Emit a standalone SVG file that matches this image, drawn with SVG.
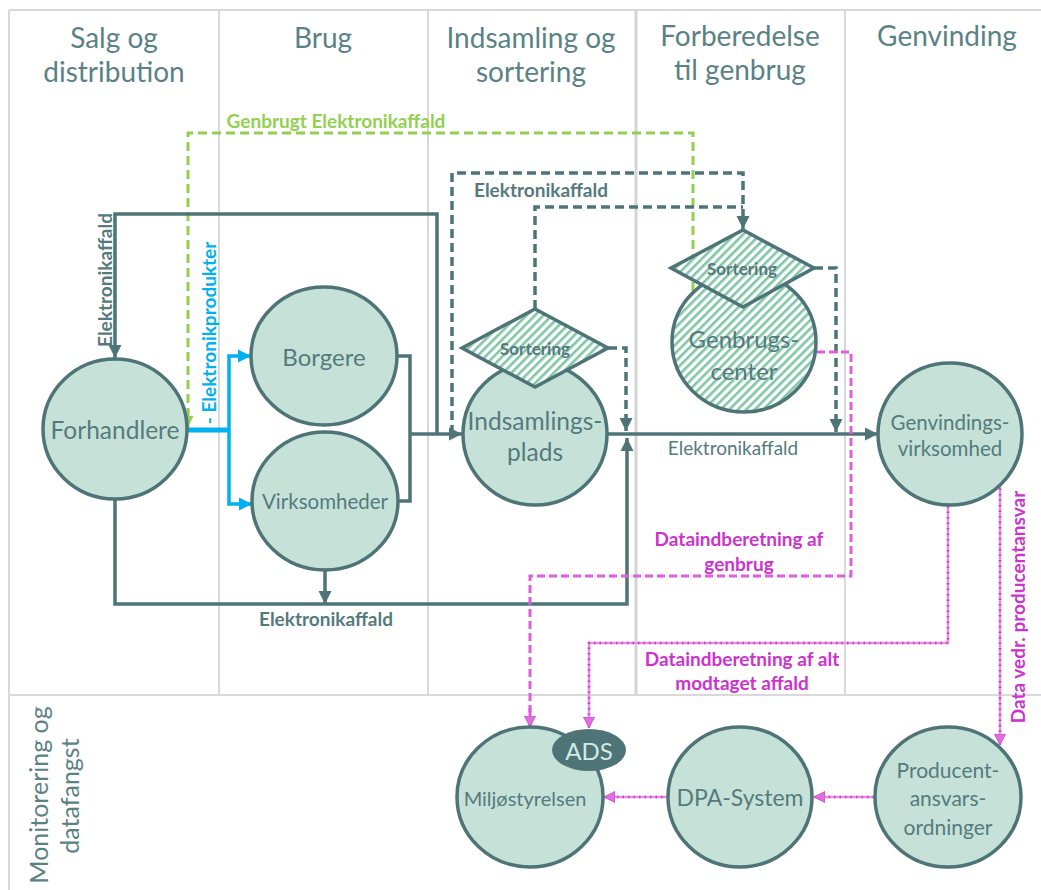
<svg xmlns="http://www.w3.org/2000/svg" width="1041" height="890" viewBox="0 0 1041 890">
<style>
.grid{stroke:#d9d9d9;stroke-width:2;fill:none}
.hdr{font-family:Lato,"Open Sans",sans-serif;font-size:28px;fill:#5a8285;text-anchor:middle}
.node{fill:#c6e2d8;stroke:#4e7477;stroke-width:3.5}
.hatch{fill:url(#stripes);stroke:#4e7477;stroke-width:3.5}
.nt{font-family:Lato,"Open Sans",sans-serif;fill:#557a7d;text-anchor:middle;dominant-baseline:central}
.sort{font-family:Lato,"Open Sans",sans-serif;font-size:17px;font-weight:bold;fill:#557a7d;text-anchor:middle;dominant-baseline:central}
.solid{stroke:#4e7477;stroke-width:3.5;fill:none}
.dash{stroke:#4e7477;stroke-width:3.5;fill:none;stroke-dasharray:9 5}
.green{stroke:#92d050;stroke-width:3;fill:none;stroke-dasharray:9 5}
.blue{stroke:#00b0f0;stroke-width:3.5;fill:none}
.mag{stroke:#de5ede;stroke-width:3;fill:none;stroke-dasharray:8 4}
.magt{stroke:#e68fe6;stroke-width:2.5;fill:none}
.magd{stroke:#c93ac9;stroke-width:2.5;fill:none;stroke-dasharray:1.5 4}
.lbl{font-family:Lato,"Open Sans",sans-serif;font-size:19px;font-weight:bold;text-anchor:middle;dominant-baseline:central}
</style>
<defs>
<pattern id="stripes" patternUnits="userSpaceOnUse" width="6" height="6" patternTransform="rotate(45)">
<rect width="6" height="6" fill="#ffffff"/>
<rect width="2.6" height="6" fill="#7fc6a6"/>
</pattern>
<marker id="ad" viewBox="0 0 10 10" refX="10" refY="5" markerWidth="13" markerHeight="14" markerUnits="userSpaceOnUse" orient="auto"><path d="M0,0 L10,5 L0,10 z" fill="#4e7477"/></marker>
<marker id="ab" viewBox="0 0 10 10" refX="10" refY="5" markerWidth="13" markerHeight="14" markerUnits="userSpaceOnUse" orient="auto"><path d="M0,0 L10,5 L0,10 z" fill="#00b0f0"/></marker>
<marker id="ag" viewBox="0 0 10 10" refX="10" refY="5" markerWidth="11" markerHeight="14" markerUnits="userSpaceOnUse" orient="auto"><path d="M0,0 L10,5 L0,10 z" fill="#92d050"/></marker>
<marker id="am" viewBox="0 0 10 10" refX="10" refY="5" markerWidth="11" markerHeight="14" markerUnits="userSpaceOnUse" orient="auto"><path d="M0,0 L10,5 L0,10 z" fill="#e070e0" stroke="#cc44cc" stroke-width="0.8"/></marker>
</defs>

<g id="grid">
<path class="grid" d="M9,10 H1041 M9,10 V890 M9,695 H1041 M219,10 V695 M428,10 V695 M845,10 V695"/>
<path d="M636,10 V695" stroke="#d4d4d4" stroke-width="3" fill="none"/>
</g>

<g id="headers">
<text class="hdr" x="114" y="48">Salg og</text>
<text class="hdr" x="114" y="82">distribution</text>
<text class="hdr" x="323" y="48">Brug</text>
<text class="hdr" x="531" y="48">Indsamling og</text>
<text class="hdr" x="531" y="82">sortering</text>
<text class="hdr" x="740" y="46">Forberedelse</text>
<text class="hdr" x="740" y="80">til genbrug</text>
<text class="hdr" x="947" y="46">Genvinding</text>
<text class="hdr" transform="translate(38,795) rotate(-90)" dominant-baseline="central" style="font-size:25px">Monitorering og</text>
<text class="hdr" transform="translate(69,796) rotate(-90)" dominant-baseline="central" style="font-size:25px">datafangst</text>
</g>

<g id="connectors">
<path class="green" d="M693,305 V133 H188 V413"/>
<path class="green" d="M188,410 V427" marker-end="url(#ag)" style="stroke-dasharray:none"/>
<path class="solid" d="M437,434 V214 H115 V358" marker-end="url(#ad)"/>
<path class="dash" d="M452,434 V173 H743 V229" marker-end="url(#ad)"/>
<path class="dash" d="M535,309 V207 H743"/>
<path class="solid" d="M397,356 H410 V501 H398"/>
<path class="solid" d="M410,434 H462" marker-end="url(#ad)"/>
<path class="solid" d="M115,498 V604 H627 V438" marker-end="url(#ad)"/>
<path class="solid" d="M325,570 V604" marker-end="url(#ad)"/>
<path class="dash" d="M608,348 H626 V431" marker-end="url(#ad)"/>
<path class="solid" d="M607,434 H878" marker-end="url(#ad)"/>
<path class="dash" d="M814,268 H836 V432" marker-end="url(#ad)"/>
<path d="M187,430 H229" stroke="#00b0f0" stroke-width="5" fill="none"/>
<path class="blue" d="M229,430 V356 H251" marker-end="url(#ab)"/>
<path class="blue" d="M229,430 V504 H252" marker-end="url(#ab)"/>
<path class="mag" d="M817,352 H851 V576 H530 V712"/>
<path d="M530,708 V727" stroke="#de5ede" stroke-width="3" marker-end="url(#am)"/>
<path class="magt" d="M948,506 V643 H589 V728" marker-end="url(#am)"/>
<path class="magd" d="M948,506 V643 H589 V716"/>
<path class="magt" d="M1000,483 V745" marker-end="url(#am)"/>
<path class="magd" d="M1000,483 V733"/>
<path class="magt" d="M874,797 H814" marker-end="url(#am)"/>
<path class="magd" d="M874,797 H826"/>
<path class="magt" d="M668,797 H604" marker-end="url(#am)"/>
<path class="magd" d="M668,797 H616"/>
<text class="lbl" x="336" y="120" fill="#92d050">Genbrugt Elektronikaffald</text>
<text class="lbl" x="541" y="189" fill="#557a7d">Elektronikaffald</text>
<text class="lbl" transform="translate(104,280) rotate(-90)" fill="#557a7d">Elektronikaffald</text>
<text class="lbl" transform="translate(208,333) rotate(-90)" fill="#00b0f0">- Elektronikprodukter</text>
<text class="lbl" x="326" y="618" fill="#557a7d">Elektronikaffald</text>
<text class="lbl" x="733" y="447" fill="#557a7d" style="font-weight:normal">Elektronikaffald</text>
<text class="lbl" x="739" y="538" fill="#cc33cc">Dataindberetning af</text>
<text class="lbl" x="739" y="563" fill="#cc33cc">genbrug</text>
<text class="lbl" x="742" y="658" fill="#cc33cc">Dataindberetning af alt</text>
<text class="lbl" x="742" y="682" fill="#cc33cc">modtaget affald</text>
<text class="lbl" transform="translate(1017,607) rotate(-90)" fill="#cc33cc">Data vedr. producentansvar</text>
</g>

<g id="forhandlere">
<ellipse class="node" cx="115" cy="429" rx="72" ry="70"/>
<text class="nt" x="115" y="429" font-size="24.5">Forhandlere</text>
</g>
<g id="borgere">
<ellipse class="node" cx="324" cy="356" rx="73" ry="69"/>
<text class="nt" x="324" y="356" font-size="24">Borgere</text>
</g>
<g id="virksomheder">
<ellipse class="node" cx="325" cy="501" rx="73" ry="69"/>
<text class="nt" x="325" y="501" font-size="20.5">Virksomheder</text>
</g>
<g id="indsamlingsplads">
<ellipse class="node" cx="535" cy="434" rx="72" ry="71"/>
<text class="nt" x="535" y="420" font-size="24.5">Indsamlings-</text>
<text class="nt" x="535" y="451" font-size="24.5">plads</text>
</g>
<g id="sortering1">
<polygon class="hatch" points="462,348 535,309 608,348 535,387"/>
<text class="sort" x="535" y="348">Sortering</text>
</g>
<g id="genbrugscenter">
<ellipse class="hatch" cx="744" cy="342" rx="72" ry="70"/>
<text class="nt" x="744" y="338" font-size="24">Genbrugs-</text>
<text class="nt" x="744" y="370" font-size="24">center</text>
</g>
<g id="sortering2">
<polygon class="hatch" points="671,268 743,230 814,268 743,307"/>
<text class="sort" x="742" y="268">Sortering</text>
</g>
<g id="genvindingsvirksomhed">
<ellipse class="node" cx="950" cy="434" rx="72" ry="71"/>
<text class="nt" x="950" y="422" font-size="20.5">Genvindings-</text>
<text class="nt" x="950" y="448" font-size="20.5">virksomhed</text>
</g>
<g id="miljostyrelsen">
<ellipse class="node" cx="530" cy="797" rx="73" ry="70"/>
<text class="nt" x="525" y="798" font-size="20">Miljøstyrelsen</text>
</g>
<g id="ads">
<ellipse cx="589" cy="750" rx="37" ry="21" fill="#4e7477"/>
<text class="nt" x="589" y="750" font-size="24" style="fill:#d3ebe3">ADS</text>
</g>
<g id="dpa">
<ellipse class="node" cx="740" cy="797" rx="72" ry="70"/>
<text class="nt" x="740" y="797" font-size="23">DPA-System</text>
</g>
<g id="producent">
<ellipse class="node" cx="948" cy="797" rx="73" ry="70"/>
<text class="nt" x="948" y="769" font-size="21">Producent-</text>
<text class="nt" x="948" y="797" font-size="21">ansvars-</text>
<text class="nt" x="948" y="826" font-size="21">ordninger</text>
</g>
</svg>
